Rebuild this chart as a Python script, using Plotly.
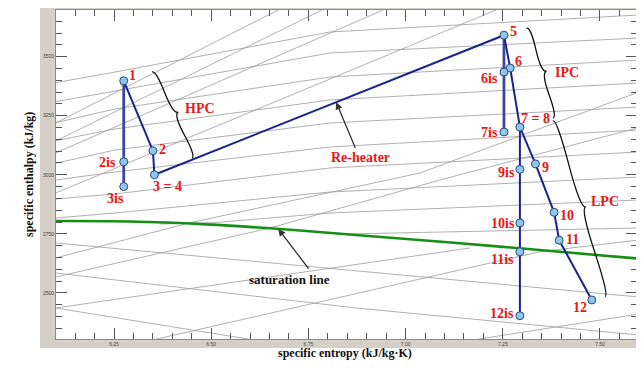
import numpy as np
import plotly.graph_objects as go

# ---------------- data (s in kJ/kg·K, h in kJ/kg) ----------------
# actual expansion / reheat path
path_names = ["1", "2", "3 = 4", "5", "6", "7 = 8", "9", "10", "11", "12"]
path_s = [6.275, 6.350, 6.354, 7.253, 7.269, 7.294, 7.334, 7.382, 7.395, 7.479]
path_h = [3398, 3102, 3000, 3591, 3452, 3202, 3046, 2841, 2723, 2470]

# isentropic lines
hp_is_names = ["1", "2is", "3is"]
hp_is_s = [6.275, 6.275, 6.275]
hp_is_h = [3398, 3055, 2950]
ip_is_names = ["5", "6is", "7is"]
ip_is_s = [7.253, 7.253, 7.253]
ip_is_h = [3591, 3435, 3181]
lp_is_names = ["7 = 8", "9is", "10is", "11is", "12is"]
lp_is_s = [7.294, 7.294, 7.294, 7.294, 7.294]
lp_is_h = [3202, 3023, 2796, 2674, 2403]

# saturated vapour line
sat_s = [6.10, 6.291, 6.487, 6.677, 6.872, 7.243, 7.60]
sat_h = [2804, 2802, 2790, 2770.5, 2745, 2696, 2645]

# background chart lines (isotherms, isobars, quality lines)
isotherm_lines = [
    ([6.10, 6.2526, 6.8056, 7.60], [3389.9, 3435.2, 3604.6, 3676.6]),
    ([6.10, 6.2526, 6.8056, 7.60], [3309.5, 3354.8, 3515.7, 3579.2]),
    ([6.10, 6.2526, 6.8056, 7.60], [3220.6, 3278.6, 3414.0, 3486.0]),
    ([6.10, 6.2526, 6.8056, 7.60], [3144.3, 3193.9, 3316.7, 3388.6]),
    ([6.10, 6.2526, 6.8056, 7.60], [3048.7, 3105.0, 3219.3, 3287.0]),
    ([6.10, 6.2526, 6.8056, 7.60], [2977.9, 3011.8, 3117.7, 3189.6]),
    ([6.10, 6.2526, 6.8056, 7.60], [2897.5, 2918.7, 3028.8, 3096.5]),
    ([6.10, 6.2526, 6.8056, 7.60], [2817.0, 2838.2, 2927.1, 2990.6]),
    ([6.3683, 6.5046, 6.8056, 7.60], [2791.7, 2797.2, 2838.2, 2893.3]),
    ([6.8441, 7.60], [2749.3, 2774.7]),
]
isobar_lines = [
    ([6.10, 6.6718], [3219.3, 3697.7]),
    ([6.10, 6.7850], [3143.0, 3697.7]),
    ([6.10, 6.9419], [3092.3, 3697.7]),
    ([6.10, 7.2325], [2922.9, 3697.7]),
    ([6.10, 6.4429, 7.0370, 7.60], [2647.7, 2795.9, 3007.6, 3350.5]),
    ([6.10, 6.6512, 7.0885, 7.60], [2567.3, 2774.7, 2977.9, 3200.0]),
    ([6.10, 6.8724, 7.1656], [2436.0, 2618.1, 2690.0]),
    ([6.3495, 7.3457, 7.60], [2300.5, 2674.4, 2723.9]),
    ([7.1733, 7.60], [2300.5, 2410.6]),
]
quality_lines = [
    ([6.10, 7.60], [2711.2, 2482.6]),
    ([6.10, 6.8724, 7.60], [2584.2, 2436.0, 2321.7]),
    ([6.10, 6.65], [2436.0, 2290.0]),
]

x_tick_vals = [6.25, 6.50, 6.75, 7.00, 7.25, 7.50]
y_tick_vals = [2500, 2750, 3000, 3250, 3500]

# braces (end points along the turbine sections)
brace_hpc = [(6.3477, 3435.2), (6.4506, 3071.1)]
brace_ipc = [(7.3115, 3620.2), (7.3791, 3240.5)]
brace_lpc = [(7.3791, 3227.8), (7.5129, 2483.8)]

# ---------------- layout geometry ----------------
OFF = 8                      # page body margin of the html page
W, H = 644 - OFF, 370 - OFF
ML, MT = 56 - OFF, 10 - OFF
PW, PH = 581, 329
MR = W - ML - PW
MB = H - MT - PH
X_RANGE = [6.1008, 7.5952]
Y_RANGE = [2304.7, 3697.7]


def px_to_paper(wx, wy):
    """window pixel -> paper coords"""
    return ((wx - OFF - ML) / PW, (MT + PH - (wy - OFF)) / PH)


def to_px(s, h):
    return ((s - X_RANGE[0]) / (X_RANGE[1] - X_RANGE[0]) * PW,
            (Y_RANGE[1] - h) / (Y_RANGE[1] - Y_RANGE[0]) * PH)


def to_data(px, py):
    return (X_RANGE[0] + px / PW * (X_RANGE[1] - X_RANGE[0]),
            Y_RANGE[1] - py / PH * (Y_RANGE[1] - Y_RANGE[0]))


def brace(p0, p1, depth=7.0, q=0.6):
    x1, y1 = to_px(*p0)
    x2, y2 = to_px(*p1)
    dx, dy = x1 - x2, y1 - y2
    L = np.hypot(dx, dy)
    dx, dy = dx / L, dy / L
    w = depth * np.sign(dy)  # offset toward +x
    ox, oy = w * dy, -w * dx
    q1 = (x1 + q * ox, y1 + q * oy)
    q2 = (x1 - .25 * L * dx + (1 - q) * ox, y1 - .25 * L * dy + (1 - q) * oy)
    tip = (x1 - .5 * L * dx + ox, y1 - .5 * L * dy + oy)
    q3 = (x2 + q * ox, y2 + q * oy)
    q4 = (x1 - .75 * L * dx + (1 - q) * ox, y1 - .75 * L * dy + (1 - q) * oy)
    c1 = (2 * q2[0] - q1[0], 2 * q2[1] - q1[1])
    c2 = (2 * q4[0] - q3[0], 2 * q4[1] - q3[1])

    def d(p):
        s, h = to_data(*p)
        return f"{s:.5f},{h:.3f}"
    path = (f"M {d((x1, y1))} Q {d(q1)} {d(q2)} Q {d(c1)} {d(tip)} "
            f"M {d((x2, y2))} Q {d(q3)} {d(q4)} Q {d(c2)} {d(tip)}")
    return path, to_data(*tip)


fig = go.Figure()

grey = dict(color="#9c9c9c", width=0.8)
for group in (isotherm_lines, isobar_lines, quality_lines):
    for xs, ys in group:
        fig.add_trace(go.Scatter(x=xs, y=ys, mode="lines", line=grey,
                                 hoverinfo="skip", showlegend=False))

fig.add_trace(go.Scatter(x=sat_s, y=sat_h, mode="lines",
                         line=dict(color="#178f17", width=2.6, shape="spline"),
                         showlegend=False))

navy = dict(color="#1c2190", width=2)
thick = dict(color="#3a479c", width=2.8)
for xs, ys, ln in ((hp_is_s, hp_is_h, thick), (ip_is_s, ip_is_h, thick),
                   (lp_is_s, lp_is_h, navy), (path_s, path_h, navy)):
    fig.add_trace(go.Scatter(x=xs, y=ys, mode="lines", line=ln,
                             showlegend=False))

marker = dict(size=8, color="#8fc6ee", line=dict(color="#2b4a78", width=1))
all_names = path_names + hp_is_names[1:] + ip_is_names[1:] + lp_is_names[1:]
all_s = path_s + hp_is_s[1:] + ip_is_s[1:] + lp_is_s[1:]
all_h = path_h + hp_is_h[1:] + ip_is_h[1:] + lp_is_h[1:]
fig.add_trace(go.Scatter(x=all_s, y=all_h, mode="markers", marker=marker,
                         text=all_names, showlegend=False))

# label pixel offsets (dx right, dy down)
label_off = {"1": (8.5, -5.4), "2": (10, -1), "2is": (-16, 0.5),
             "3is": (-8.5, 11.6), "3 = 4": (13, 12), "5": (10, -3.6),
             "6": (8, -6.3), "6is": (-14, 6.3), "7 = 8": (15.5, -8.7),
             "7is": (-14, 0.7), "9is": (-13.7, 3.4), "9": (10, 3.3),
             "10is": (-16.7, 0.3), "10": (13, 2.7), "11is": (-17.5, 7.3),
             "11": (13.7, -0.3), "12is": (-17.5, -2.4), "12": (-11.4, 7.3)}
red_font = dict(family="Liberation Serif, Times New Roman, serif", size=14,
                color="#ee1515")
annotations = []
for n, s, h in zip(all_names, all_s, all_h):
    dxp, dyp = label_off[n]
    annotations.append(dict(x=s, y=h, text=f"<b>{n}</b>", showarrow=False,
                            xshift=dxp, yshift=-dyp, font=red_font,
                            xanchor="center", yanchor="middle"))

# grey window frame: paper background grey, white outside the frame
lx0, _ = px_to_paper(OFF - 2, 0)
lx1, _ = px_to_paper(40, 0)
rx0, _ = px_to_paper(641, 0)
_, by0 = px_to_paper(0, 348)
shapes = [
    dict(type="rect", xref="paper", yref="paper", layer="above",
         x0=lx0 - 0.05, x1=lx1, y0=-0.3, y1=1.3, fillcolor="white",
         line=dict(width=0)),
    dict(type="rect", xref="paper", yref="paper", layer="above",
         x0=rx0, x1=1.3, y0=-0.3, y1=1.3, fillcolor="white",
         line=dict(width=0)),
    dict(type="rect", xref="paper", yref="paper", layer="above",
         x0=-0.3, x1=1.3, y0=-0.3, y1=by0, fillcolor="white",
         line=dict(width=0)),
]
for pts, name, (sx, sy) in ((brace_hpc, "HPC", (21.5, 3.7)),
                            (brace_ipc, "IPC", (20, -1.7)),
                            (brace_lpc, "LPC", (19.5, 5))):
    path, tip = brace(*pts)
    shapes.append(dict(type="path", path=path, xref="x", yref="y",
                       line=dict(color="#111111", width=1.3)))
    annotations.append(dict(x=tip[0], y=tip[1], text=f"<b>{name}</b>",
                            showarrow=False, xshift=sx, yshift=sy,
                            font=red_font))

# re-heater arrow
t = 0.52
rh_s = path_s[2] + t * (path_s[3] - path_s[2])
rh_h = path_h[2] + t * (path_h[3] - path_h[2])
annotations.append(dict(x=rh_s, y=rh_h, text=" ", font=dict(size=1),
                        showarrow=True, ax=20, ay=47.7, arrowhead=2,
                        arrowsize=1.1, arrowwidth=1.3, arrowcolor="#333333",
                        standoff=0))
annotations.append(dict(x=rh_s, y=rh_h, text="<b>Re-heater</b>",
                        showarrow=False, xshift=24.3, yshift=-55,
                        font=red_font))
# saturation line arrow
sl_s = 6.6726
sl_h = float(np.interp(sl_s, sat_s, sat_h))
annotations.append(dict(x=sl_s, y=sl_h, text=" ", font=dict(size=1),
                        showarrow=True, ax=31.7, ay=41.6, arrowhead=2,
                        arrowsize=1.1, arrowwidth=1.3, arrowcolor="#333333",
                        standoff=0))
annotations.append(dict(x=sl_s, y=sl_h, text="<b>saturation line</b>",
                        showarrow=False, xshift=11, yshift=-51,
                        font=dict(family="Liberation Serif, Times New Roman, serif",
                                  size=13, color="#111111")))

title_font = dict(family="Liberation Serif, Times New Roman, serif", size=12,
                  color="#111111")
xt = px_to_paper(345, 361.7)
yt = px_to_paper(20, 175)
annotations.append(dict(xref="paper", yref="paper", x=xt[0], y=xt[1],
                        text="<b>specific entropy (kJ/kg·K)</b>",
                        showarrow=False, font=title_font))
annotations.append(dict(xref="paper", yref="paper", x=yt[0], y=yt[1],
                        textangle=-90,
                        text="<b>specific enthalpy (kJ/kg)</b>",
                        showarrow=False, font=title_font))

tick_font = dict(family="Liberation Sans, Arial, sans-serif", size=5,
                 color="#444444")
axis_common = dict(showgrid=False, zeroline=False, showline=True,
                   linecolor="#8a8a8a", linewidth=1, mirror="ticks",
                   ticks="inside", ticklen=11, tickwidth=1,
                   tickcolor="#555555", tickfont=tick_font)
fig.update_layout(
    width=W, height=H,
    margin=dict(l=ML, r=MR, t=MT, b=MB, pad=0),
    paper_bgcolor="#d4d0c8", plot_bgcolor="white",
    showlegend=False,
    xaxis=dict(range=X_RANGE, tickvals=x_tick_vals, tickformat=".2f",
               minor=dict(dtick=0.05, tick0=6.25, ticks="inside", ticklen=6,
                          tickcolor="#555555"),
               **axis_common),
    yaxis=dict(range=Y_RANGE, tickvals=y_tick_vals, tickformat=".0f",
               minor=dict(dtick=50, tick0=2500, ticks="inside", ticklen=6,
                          tickcolor="#555555"),
               **axis_common),
    shapes=shapes,
    annotations=annotations,
)

fig.write_html("out.html")
